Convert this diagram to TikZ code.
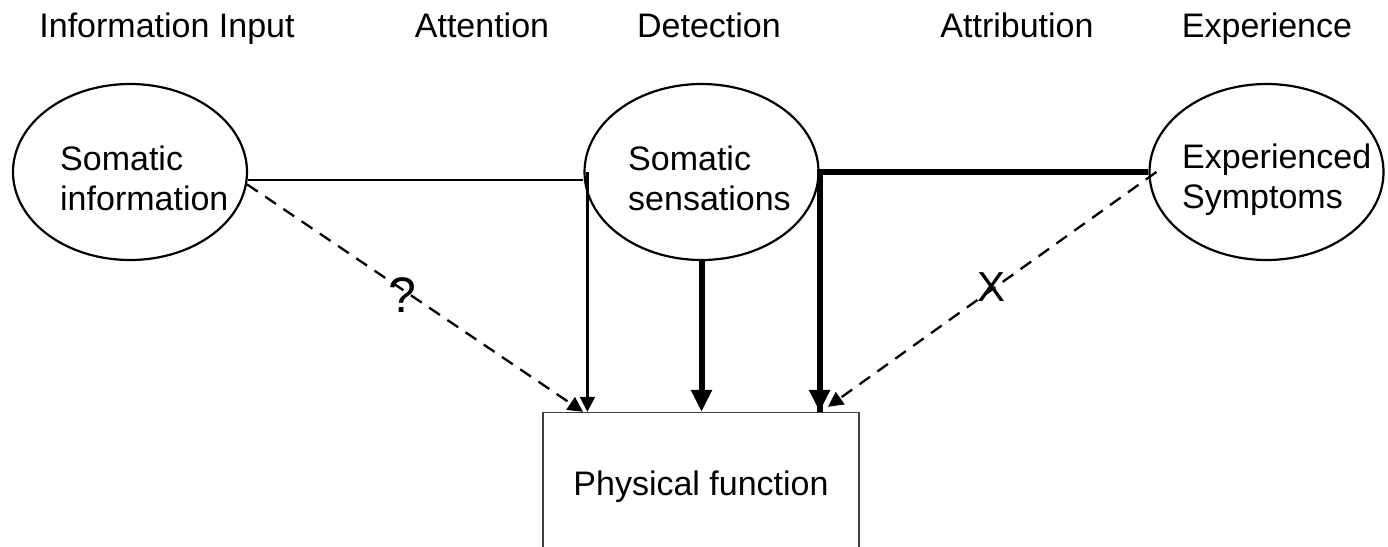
\documentclass[tikz,border=0pt]{standalone}
\usepackage{fontspec}
\setmainfont{Liberation Sans}
\usetikzlibrary{shapes.geometric,arrows.meta}
\tikzset{
  lbl/.style={font=\fontsize{34}{40}\selectfont, inner sep=0pt},
  ell/.style={ellipse, draw, line width=2.2pt, minimum width=234pt, minimum height=176pt, inner sep=0pt},
  etext/.style={font=\fontsize{34}{40}\selectfont, align=left, inner sep=0pt, anchor=north west},
  pbox/.style={rectangle, draw=black!75, line width=1.4pt, minimum width=316pt, minimum height=142pt, inner sep=0pt,
               font=\fontsize{34}{40}\selectfont, text height=24.5pt, text depth=0pt},
  thinconn/.style={line width=2.3pt},
  thickconn/.style={line width=6pt},
  dashconn/.style={line width=2.3pt, dash pattern=on 13pt off 9pt},
  thinhead/.style={-{Triangle[length=15pt,width=15pt]}},
  thickhead/.style={-{Triangle[length=22pt,width=20pt]}},
}
\begin{document}
\begin{tikzpicture}[x=1pt,y=1pt]
\useasboundingbox (0,0) rectangle (1388,-546);
\clip (0,0) rectangle (1388,-546);
\fill[white] (0,0) rectangle (1388,-546);

% stage labels
\node[lbl, anchor=base] (l1) at (167,-37.3) {Information Input};
\node[lbl, anchor=base] (l2) at (482,-37.3) {Attention};
\node[lbl, anchor=base] (l3) at (709,-37.3) {Detection};
\node[lbl, anchor=base] (l4) at (1017,-37.3) {Attribution};
\node[lbl, anchor=base] (l5) at (1267,-37.3) {Experience};

% ellipses
\node[ell] (si) at (130,-172) {};
\node[ell] (ss) at (701.5,-172) {};
\node[ell] (se) at (1266.5,-172) {};
\node[etext] (sit) at (60,-145.3) {Somatic\\information};
\node[etext] (sst) at (628,-145.3) {Somatic\\sensations};
\node[etext] (set) at (1182,-143.5) {Experienced\\Symptoms};

% box
\node[pbox] (pf) at (701,-483.5) {Physical function};

% connectors
\draw[thinconn] (si.-4) -- (si.-4 -| ss.west);
\draw[thinconn, thinhead] ([xshift=4pt,yshift=0pt]ss.west) -- ([xshift=4pt]ss.west |- pf.north);
\draw[thickconn, thickhead] (ss.south) -- (ss.south |- pf.north);
\draw[thickconn, line join=miter] (se.west) -- (ss.east) -- (ss.east |- pf.north);
\draw[thickconn, thickhead] ([yshift=40pt]ss.east |- pf.north) -- (ss.east |- pf.north);
\draw[dashconn, thinhead] (si.-6) -- ([xshift=-118pt]pf.north);
\draw[dashconn, thinhead] ([xshift=8pt]se.west) -- ([xshift=127pt,yshift=5pt]pf.north);

% marks on the dashed connectors
\node[font=\fontsize{50}{50}\selectfont, inner sep=0pt] (q) at (402,-295) {?};
\node[font=\fontsize{42}{42}\selectfont, inner sep=0pt] (x) at (991,-287) {X};
\end{tikzpicture}
\end{document}
